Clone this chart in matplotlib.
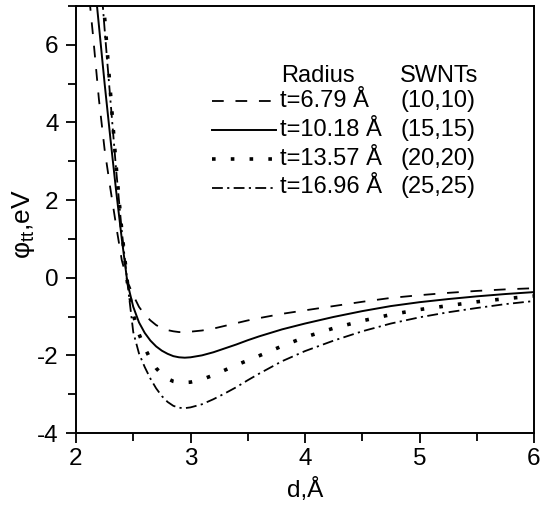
import matplotlib
matplotlib.use("Agg")
import matplotlib.pyplot as plt
from matplotlib.lines import Line2D
from matplotlib.ticker import MultipleLocator

plt.rcParams['font.family'] = ['Liberation Sans', 'DejaVu Sans']
plt.rcParams['mathtext.fontset'] = 'custom'
plt.rcParams['mathtext.rm'] = 'Liberation Sans'
plt.rcParams['mathtext.it'] = 'Liberation Sans'
plt.rcParams['axes.unicode_minus'] = False

# ---- data ----
d_vals = [2.10, 2.15, 2.20, 2.25, 2.30, 2.35, 2.40, 2.45, 2.50, 2.55, 2.60, 2.65,
          2.70, 2.75, 2.80, 2.85, 2.90, 2.95, 3.00, 3.10, 3.20, 3.30, 3.40, 3.50,
          3.60, 3.80, 4.00, 4.25, 4.50, 4.75, 5.00, 5.25, 5.50, 5.75, 6.00]

phi_1010 = [7.7, 6.2, 4.6, 3.3, 2.3, 1.35, 0.45, -0.1, -0.45, -0.75, -0.95, -1.10,
            -1.22, -1.30, -1.35, -1.38, -1.40, -1.40, -1.39, -1.36, -1.31, -1.24, -1.17, -1.10,
            -1.04, -0.93, -0.84, -0.73, -0.62, -0.52, -0.45, -0.39, -0.34, -0.30, -0.27]

phi_1515 = [9.6, 8.0, 6.5, 5.0, 3.6, 2.25, 1.0, -0.15, -0.75, -1.15, -1.42, -1.62,
            -1.77, -1.88, -1.96, -2.02, -2.05, -2.06, -2.05, -2.00, -1.92, -1.82, -1.72, -1.61,
            -1.51, -1.33, -1.18, -1.01, -0.86, -0.73, -0.63, -0.55, -0.48, -0.42, -0.37]

phi_2020 = [12.4, 10.4, 8.5, 6.7, 4.8, 2.9, 1.2, -0.15, -0.95, -1.45, -1.80, -2.10,
            -2.33, -2.49, -2.60, -2.67, -2.70, -2.70, -2.69, -2.62, -2.51, -2.38, -2.25, -2.13,
            -2.01, -1.76, -1.53, -1.30, -1.11, -0.95, -0.82, -0.72, -0.62, -0.54, -0.47]

phi_2525 = [12.2, 10.2, 8.3, 6.4, 4.6, 2.8, 1.2, -0.15, -1.40, -1.95, -2.30, -2.60,
            -2.85, -3.05, -3.20, -3.30, -3.35, -3.36, -3.34, -3.26, -3.13, -2.98, -2.82, -2.64,
            -2.47, -2.15, -1.89, -1.62, -1.38, -1.18, -1.02, -0.89, -0.78, -0.68, -0.60]

radius_labels = ['t=6.79 Å', 't=10.18 Å', 't=13.57 Å', 't=16.96 Å']
swnt_labels = ['(10,10)', '(15,15)', '(20,20)', '(25,25)']

x_ticks = [2, 3, 4, 5, 6]
y_ticks = [-4, -2, 0, 2, 4, 6]

# ---- styles ----
styles = [
    dict(color='black', lw=1.3, linestyle=(0, (6.5, 6.5))),
    dict(color='black', lw=1.4, linestyle='-'),
    dict(color='black', lw=2.6, linestyle=(0, (1.0, 4.2)), dash_capstyle='butt'),
    dict(color='black', lw=1.3, linestyle=(0, (6.0, 2.4, 1.2, 2.4))),
]

fig = plt.figure(figsize=(5.40, 5.08), dpi=100)
ax = fig.add_axes([76 / 540, 1 - 433 / 508, 458 / 540, 427 / 508])

series = [phi_1010, phi_1515, phi_2020, phi_2525]
for ys, st in zip(series, styles):
    ax.plot(d_vals, ys, **st)

ax.set_xlim(2, 6)
ax.set_ylim(-4, 7)
ax.set_xticks(x_ticks)
ax.set_yticks(y_ticks)
ax.xaxis.set_minor_locator(MultipleLocator(0.5))
ax.yaxis.set_minor_locator(MultipleLocator(1))

for s in ax.spines.values():
    s.set_linewidth(1.4)
ax.tick_params(which='both', direction='out', width=1.3, top=False, right=False,
               labelsize=17.5)
ax.tick_params(which='major', length=7.5)
ax.tick_params(which='minor', length=5.5)
ax.tick_params(axis='x', pad=3)
ax.tick_params(axis='y', pad=5)

ax.set_xlabel('d,Å', fontsize=17.5, labelpad=6)
ax.set_ylabel(r'$\mathrm{φ}_{\mathrm{tt}}$,eV', fontsize=19)
ax.yaxis.set_label_coords(-0.085, 0.49)

# ---- legend drawn manually ----
def ax_x(px):
    return (px - 76) / 458

def ax_y(py):
    return (433 - py) / 427

ax.text(ax_x(281), ax_y(81.7), 'Radius', transform=ax.transAxes, fontsize=17,
        ha='left', va='baseline')
ax.text(ax_x(400), ax_y(81.7), 'SWNTs', transform=ax.transAxes, fontsize=17,
        ha='left', va='baseline')
baselines = [106.7, 135.7, 164.7, 193.0]
for lab, sw, st, b in zip(radius_labels, swnt_labels, styles, baselines):
    ly = ax_y(b - 5.5)
    ax.add_line(Line2D([ax_x(212), ax_x(276)], [ly, ly], transform=ax.transAxes, **st))
    ax.text(ax_x(280), ax_y(b), lab, transform=ax.transAxes, fontsize=17,
            ha='left', va='baseline')
    ax.text(ax_x(400), ax_y(b), sw, transform=ax.transAxes, fontsize=17,
            ha='left', va='baseline')

fig.savefig('out.png', dpi=100)
